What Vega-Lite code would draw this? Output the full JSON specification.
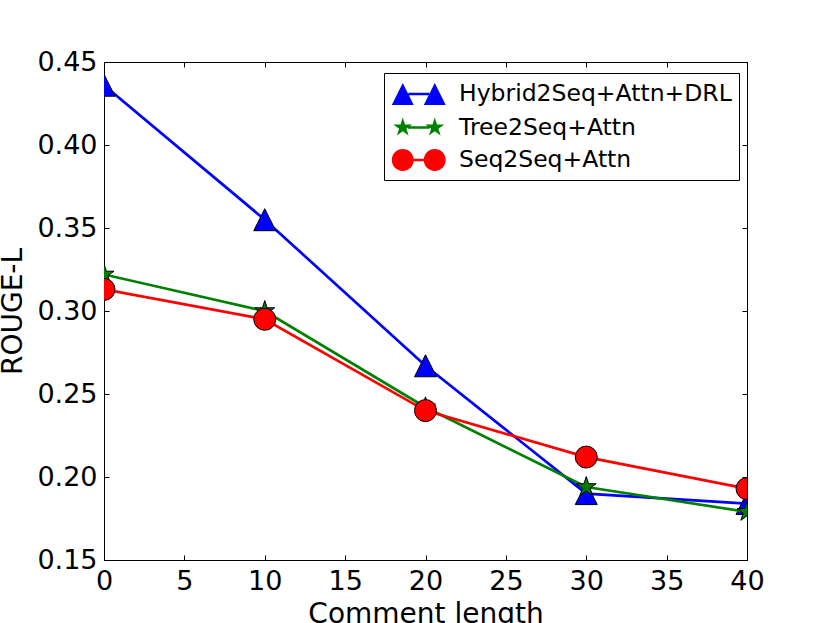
{
  "$schema": "https://vega.github.io/schema/vega-lite/v6.json",
  "width": 643,
  "height": 498,
  "autosize": {"type": "none"},
  "padding": {"left": 104, "top": 62, "right": 83, "bottom": 63},
  "background": "white",
  "config": {
    "font": "DejaVu Sans",
    "view": {"stroke": null},
    "axis": {
      "grid": false,
      "domainColor": "black",
      "domainWidth": 1,
      "tickColor": "black",
      "tickWidth": 1,
      "tickSize": -5,
      "labelFont": "DejaVu Sans",
      "labelFontSize": 27,
      "labelColor": "black",
      "titleFont": "DejaVu Sans",
      "titleFontSize": 28,
      "titleFontWeight": "normal",
      "titleColor": "black",
      "labelFlush": false,
      "labelOverlap": false
    },
    "legend": {
      "orient": "none",
      "legendX": 280,
      "legendY": 11,
      "padding": 7,
      "strokeColor": "black",
      "fillColor": "white",
      "cornerRadius": 0,
      "labelFont": "DejaVu Sans",
      "labelFontSize": 23.5,
      "labelColor": "black",
      "labelOffset": 40,
      "labelLimit": 0,
      "symbolSize": 700,
      "rowPadding": 6.5,
      "symbolStrokeColor": "black",
      "symbolStrokeWidth": 0.8,
      "symbolOpacity": 1
    }
  },
  "data": {
    "values": [
      {"series": "Hybrid2Seq+Attn+DRL", "length": 0, "rouge": 0.436},
      {"series": "Hybrid2Seq+Attn+DRL", "length": 10, "rouge": 0.355},
      {"series": "Hybrid2Seq+Attn+DRL", "length": 20, "rouge": 0.267},
      {"series": "Hybrid2Seq+Attn+DRL", "length": 30, "rouge": 0.190},
      {"series": "Hybrid2Seq+Attn+DRL", "length": 40, "rouge": 0.184},
      {"series": "Tree2Seq+Attn", "length": 0, "rouge": 0.322},
      {"series": "Tree2Seq+Attn", "length": 10, "rouge": 0.300},
      {"series": "Tree2Seq+Attn", "length": 20, "rouge": 0.242},
      {"series": "Tree2Seq+Attn", "length": 30, "rouge": 0.194},
      {"series": "Tree2Seq+Attn", "length": 40, "rouge": 0.179},
      {"series": "Seq2Seq+Attn", "length": 0, "rouge": 0.313},
      {"series": "Seq2Seq+Attn", "length": 10, "rouge": 0.295},
      {"series": "Seq2Seq+Attn", "length": 20, "rouge": 0.240},
      {"series": "Seq2Seq+Attn", "length": 30, "rouge": 0.212},
      {"series": "Seq2Seq+Attn", "length": 40, "rouge": 0.193}
    ]
  },
  "layer": [
    {
      "transform": [{"filter": "datum.series == 'Hybrid2Seq+Attn+DRL'"}],
      "mark": {"type": "line", "strokeWidth": 2.7, "clip": true},
      "encoding": {
        "x": {"field": "length", "type": "quantitative", "scale": {"domain": [0, 40], "nice": false, "zero": false}, "axis": {"orient": "bottom", "title": "Comment length", "values": [0, 5, 10, 15, 20, 25, 30, 35, 40], "labelPadding": 13, "titlePadding": 6}},
        "y": {"field": "rouge", "type": "quantitative", "scale": {"domain": [0.15, 0.45], "nice": false, "zero": false}, "axis": {"orient": "left", "title": "ROUGE-L", "values": [0.15, 0.2, 0.25, 0.3, 0.35, 0.4, 0.45], "format": ".2f", "labelPadding": 12, "titlePadding": 9}},
        "color": {"field": "series", "type": "nominal", "legend": null, "scale": {"domain": ["Hybrid2Seq+Attn+DRL", "Tree2Seq+Attn", "Seq2Seq+Attn"], "range": ["#0000ff", "#008000", "#ff0000"]}}
      }
    },
    {
      "transform": [{"filter": "datum.series == 'Hybrid2Seq+Attn+DRL'"}],
      "mark": {"type": "point", "filled": true, "opacity": 1, "size": 484, "stroke": "black", "strokeWidth": 1, "clip": true, "shape": "M0,-1L-1,1L1,1Z"},
      "encoding": {
        "x": {"field": "length", "type": "quantitative", "axis": null},
        "y": {"field": "rouge", "type": "quantitative", "axis": null},
        "fill": {"field": "series", "type": "nominal", "legend": null, "scale": {"domain": ["Hybrid2Seq+Attn+DRL", "Tree2Seq+Attn", "Seq2Seq+Attn"], "range": ["#0000ff", "#008000", "#ff0000"]}}
      }
    },
    {
      "transform": [{"filter": "datum.series == 'Tree2Seq+Attn'"}],
      "mark": {"type": "line", "strokeWidth": 2.7, "clip": true},
      "encoding": {
        "x": {"field": "length", "type": "quantitative", "axis": null},
        "y": {"field": "rouge", "type": "quantitative", "axis": null},
        "color": {"field": "series", "type": "nominal", "legend": null, "scale": {"domain": ["Hybrid2Seq+Attn+DRL", "Tree2Seq+Attn", "Seq2Seq+Attn"], "range": ["#0000ff", "#008000", "#ff0000"]}}
      }
    },
    {
      "transform": [{"filter": "datum.series == 'Tree2Seq+Attn'"}],
      "mark": {"type": "point", "filled": true, "opacity": 1, "size": 484, "stroke": "black", "strokeWidth": 1, "clip": true, "shape": "M0,-0.95L0.2133,-0.2936L0.9035,-0.2936L0.3451,0.1121L0.5584,0.7686L0,0.3629L-0.5584,0.7686L-0.3451,0.1121L-0.9035,-0.2936L-0.2133,-0.2936Z"},
      "encoding": {
        "x": {"field": "length", "type": "quantitative", "axis": null},
        "y": {"field": "rouge", "type": "quantitative", "axis": null},
        "fill": {"field": "series", "type": "nominal", "legend": null, "scale": {"domain": ["Hybrid2Seq+Attn+DRL", "Tree2Seq+Attn", "Seq2Seq+Attn"], "range": ["#0000ff", "#008000", "#ff0000"]}}
      }
    },
    {
      "transform": [{"filter": "datum.series == 'Seq2Seq+Attn'"}],
      "mark": {"type": "line", "strokeWidth": 2.7, "clip": true},
      "encoding": {
        "x": {"field": "length", "type": "quantitative", "axis": null},
        "y": {"field": "rouge", "type": "quantitative", "axis": null},
        "color": {"field": "series", "type": "nominal", "legend": null, "scale": {"domain": ["Hybrid2Seq+Attn+DRL", "Tree2Seq+Attn", "Seq2Seq+Attn"], "range": ["#0000ff", "#008000", "#ff0000"]}}
      }
    },
    {
      "transform": [{"filter": "datum.series == 'Seq2Seq+Attn'"}],
      "mark": {"type": "point", "filled": true, "opacity": 1, "size": 484, "stroke": "black", "strokeWidth": 1, "clip": true, "shape": "circle"},
      "encoding": {
        "x": {"field": "length", "type": "quantitative", "axis": null},
        "y": {"field": "rouge", "type": "quantitative", "axis": null},
        "fill": {"field": "series", "type": "nominal", "legend": null, "scale": {"domain": ["Hybrid2Seq+Attn+DRL", "Tree2Seq+Attn", "Seq2Seq+Attn"], "range": ["#0000ff", "#008000", "#ff0000"]}}
      }
    },
    {
      "transform": [{"filter": "datum.length < 0"}],
      "mark": {"type": "point", "filled": true, "opacity": 1, "size": 700, "stroke": "black", "strokeWidth": 0.8},
      "encoding": {
        "x": {"field": "length", "type": "quantitative", "axis": {"orient": "top", "labels": false, "title": null, "values": [0, 5, 10, 15, 20, 25, 30, 35, 40]}},
        "y": {"field": "rouge", "type": "quantitative", "axis": {"orient": "right", "labels": false, "title": null, "values": [0.15, 0.2, 0.25, 0.3, 0.35, 0.4, 0.45]}},
        "fill": {"field": "series", "type": "nominal", "title": null, "scale": {"domain": ["Hybrid2Seq+Attn+DRL", "Tree2Seq+Attn", "Seq2Seq+Attn"], "range": ["#0000ff", "#008000", "#ff0000"]}},
        "shape": {"field": "series", "type": "nominal", "title": null, "scale": {"domain": ["Hybrid2Seq+Attn+DRL", "Tree2Seq+Attn", "Seq2Seq+Attn"], "range": [
          "M-1,0.83L-0.17,-0.83L0.66,0.83Z M1.42,0.83L2.25,-0.83L3.08,0.83Z M0.25,-0.09H1.83V0.09H0.25Z",
          "M-0.17,-0.756L0,-0.234L0.549,-0.234L0.105,0.089L0.274,0.612L-0.17,0.289L-0.614,0.612L-0.445,0.089L-0.889,-0.234L-0.34,-0.234Z M2.25,-0.756L2.42,-0.234L2.969,-0.234L2.525,0.089L2.694,0.612L2.25,0.289L1.806,0.612L1.975,0.089L1.531,-0.234L2.08,-0.234Z M0.23,-0.09H1.85V0.09H0.23Z",
          "M-1,0A0.83,0.83 0 1,1 0.66,0A0.83,0.83 0 1,1 -1,0Z M1.42,0A0.83,0.83 0 1,1 3.08,0A0.83,0.83 0 1,1 1.42,0Z M0.66,-0.09H1.42V0.09H0.66Z"
        ]}}
      }
    }
  ],
  "resolve": {
    "scale": {"color": "independent", "fill": "independent", "shape": "independent"},
    "axis": {"x": "independent", "y": "independent"}
  }
}
